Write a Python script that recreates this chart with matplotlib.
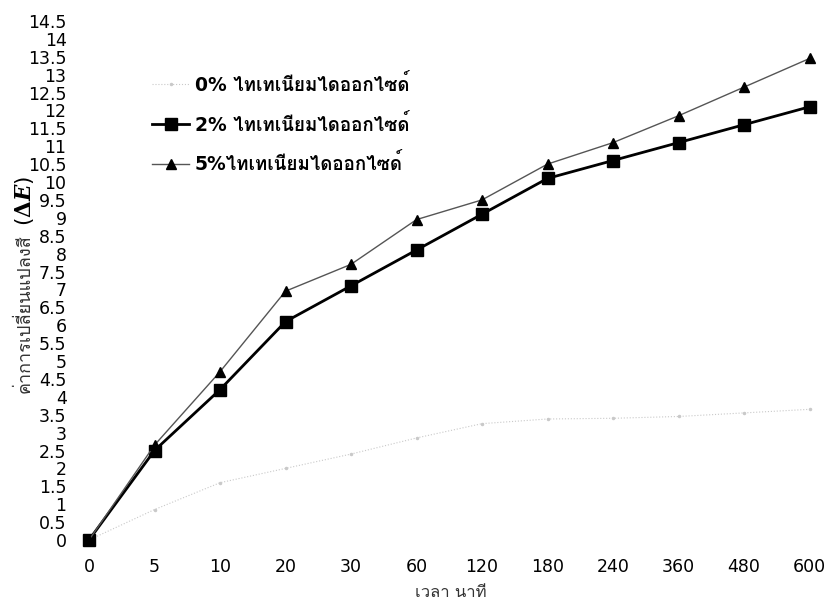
import matplotlib
matplotlib.use("Agg")
import matplotlib.pyplot as plt
from matplotlib import font_manager

# Data: colour change (ΔE) against time in minutes
time_labels = ["0", "5", "10", "20", "30", "60", "120", "180", "240", "360", "480", "600"]
tio2_0 = [0.0, 0.85, 1.6, 2.0, 2.4, 2.85, 3.25, 3.38, 3.4, 3.45, 3.55, 3.65]
tio2_2 = [0.0, 2.5, 4.2, 6.1, 7.1, 8.1, 9.1, 10.1, 10.6, 11.1, 11.6, 12.1]
tio2_5 = [0.0, 2.65, 4.7, 6.95, 7.7, 8.95, 9.5, 10.5, 11.1, 11.85, 12.65, 13.45]
series_labels = ["0% ไทเทเนียมไดออกไซด์", "2% ไทเทเนียมไดออกไซด์", "5%ไทเทเนียมไดออกไซด์"]
y_ticks = [i * 0.5 for i in range(30)]
x_title = "เวลา นาที"
y_title = "ค่าการเปลี่ยนแปลงสี"
y_title_symbol = "($\\boldsymbol{\\Delta E}$)"


def find_thai_family():
    """Return the name of an installed font family that has Thai glyphs."""
    try:
        from fontTools.ttLib import TTFont
    except Exception:
        return None
    for entry in font_manager.fontManager.ttflist:
        try:
            tt = TTFont(entry.fname, fontNumber=0, lazy=True)
            cmap = tt.getBestCmap()
            if cmap and 0x0E17 in cmap and 0x0E40 in cmap:
                return entry.name
        except Exception:
            continue
    return None


thai = find_thai_family()
families = ["DejaVu Sans"]
if thai:
    families.append(thai)
plt.rcParams["font.family"] = families
plt.rcParams["mathtext.fontset"] = "dejavuserif"

W, H = 831, 605
fig = plt.figure(figsize=(W / 100, H / 100), dpi=100)

# axes placement in pixels
x_step = 65.5
x_first = 89
xpad = 0.3
left_px = x_first - xpad * x_step
right_px = x_first + (11 + xpad) * x_step
y_unit = 35.8
y0_px = 540
ylo, yhi = -0.2, 14.7
bottom_px = y0_px - ylo * y_unit
top_px = y0_px - yhi * y_unit
ax = fig.add_axes([left_px / W, 1 - bottom_px / H,
                   (right_px - left_px) / W, (bottom_px - top_px) / H])

x = list(range(len(time_labels)))
ax.plot(x, tio2_0, color="#c9c9c9", lw=0.8, ls=":", marker=".", ms=3,
        label=series_labels[0])
ax.plot(x, tio2_2, color="black", lw=2, marker="s", ms=9,
        label=series_labels[1])
ax.plot(x, tio2_5, color="#555555", lw=1, marker="^", ms=7,
        markerfacecolor="black", markeredgecolor="black",
        label=series_labels[2])

ax.set_xlim(-xpad, 11 + xpad)
ax.set_ylim(ylo, yhi)
ax.set_xticks(x)
ax.set_xticklabels(time_labels, fontsize=12.5)
ax.set_yticks(y_ticks)
ax.set_yticklabels([f"{v:g}" for v in y_ticks], fontsize=12.5)
ax.tick_params(length=0, pad=2)
ax.tick_params(axis="x", pad=8)
for s in ax.spines.values():
    s.set_visible(False)

# axis titles
fig.text(451 / W, 1 - 592 / H, x_title, fontsize=12, color="#333333",
         ha="center", va="center")
fig.text(25 / W, 1 - 393 / H, y_title, fontsize=13, color="#333333",
         rotation=90, ha="center", va="bottom")
fig.text(24 / W, 1 - 226 / H, y_title_symbol, fontsize=15.5, color="black",
         rotation=90, ha="center", va="bottom")

leg = ax.legend(loc="upper left", bbox_to_anchor=(135 / W, 1 - 57 / H),
                bbox_transform=fig.transFigure, frameon=False,
                handlelength=2.0, handletextpad=0.3, labelspacing=1.0,
                prop={"size": 13.5, "weight": "bold"})

fig.savefig("out.png", dpi=100, facecolor="white")
